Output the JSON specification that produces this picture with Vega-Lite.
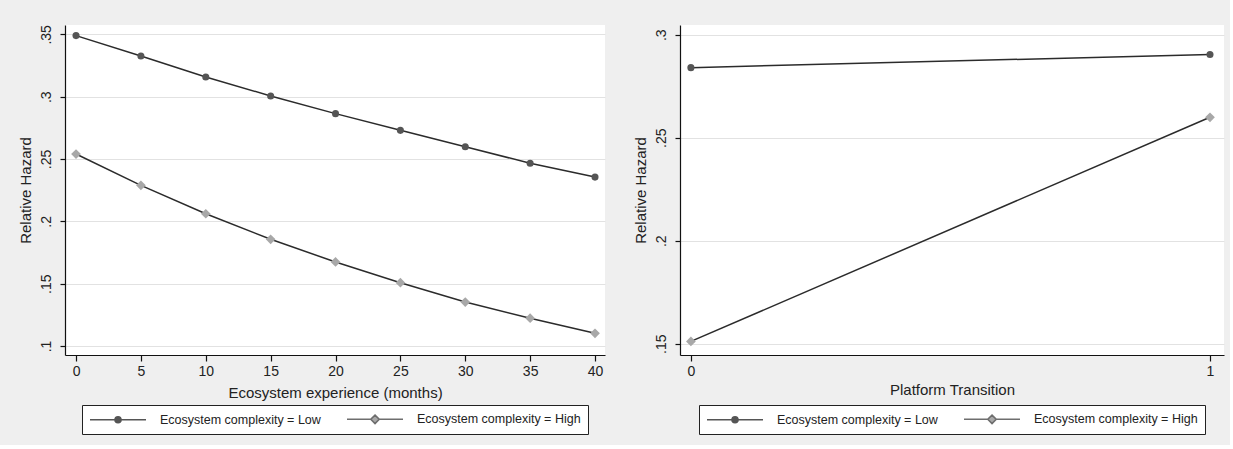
{
  "$schema": "https://vega.github.io/schema/vega-lite/v6.json",
  "background": "#efefef",
  "padding": {"left": 18, "top": 24, "right": 6, "bottom": 10},
  "spacing": 28,
  "datasets": {
    "experience": [
      {"months": 0, "hazard": 0.349, "group": "Low"},
      {"months": 5, "hazard": 0.3326, "group": "Low"},
      {"months": 10, "hazard": 0.3158, "group": "Low"},
      {"months": 15, "hazard": 0.3006, "group": "Low"},
      {"months": 20, "hazard": 0.2864, "group": "Low"},
      {"months": 25, "hazard": 0.273, "group": "Low"},
      {"months": 30, "hazard": 0.2599, "group": "Low"},
      {"months": 35, "hazard": 0.2466, "group": "Low"},
      {"months": 40, "hazard": 0.2355, "group": "Low"},
      {"months": 0, "hazard": 0.254, "group": "High"},
      {"months": 5, "hazard": 0.2289, "group": "High"},
      {"months": 10, "hazard": 0.2061, "group": "High"},
      {"months": 15, "hazard": 0.1856, "group": "High"},
      {"months": 20, "hazard": 0.1674, "group": "High"},
      {"months": 25, "hazard": 0.1508, "group": "High"},
      {"months": 30, "hazard": 0.1353, "group": "High"},
      {"months": 35, "hazard": 0.1223, "group": "High"},
      {"months": 40, "hazard": 0.1102, "group": "High"}
    ],
    "transition": [
      {"transition": 0, "hazard": 0.284, "group": "Low"},
      {"transition": 1, "hazard": 0.2904, "group": "Low"},
      {"transition": 0, "hazard": 0.1511, "group": "High"},
      {"transition": 1, "hazard": 0.2599, "group": "High"}
    ]
  },
  "resolve": {
    "scale": {"color": "independent"},
    "legend": {"color": "independent"}
  },
  "config": {
    "view": {"stroke": null, "fill": "white"},
    "font": "Liberation Sans",
    "axis": {
      "domainColor": "#111111",
      "tickColor": "#111111",
      "labelColor": "#222222",
      "titleColor": "#222222",
      "labelFontSize": 14,
      "titleFontSize": 15,
      "titleFontWeight": "normal",
      "labelFont": "Liberation Sans",
      "titleFont": "Liberation Sans",
      "gridColor": "#e2e2e2",
      "gridWidth": 1,
      "domainWidth": 1.2,
      "tickWidth": 1.2
    },
    "legend": {
      "layout": {"bottom": {"anchor": "middle"}},
      "title": null,
      "orient": "bottom",
      "direction": "horizontal",
      "columns": 2,
      "labelFontSize": 12.5,
      "labelLimit": 400,
      "labelColor": "#222222",
      "labelFont": "Liberation Sans",
      "labelOffset": 57,
      "columnPadding": 22,
      "padding": 7,
      "strokeColor": "#222222",
      "fillColor": "white",
      "symbolSize": 144,
      "symbolStrokeWidth": 1.6,
      "symbolStrokeColor": "#555555"
    }
  },
  "hconcat": [
    {
      "width": 540,
      "height": 330,
      "data": {"name": "experience"},
      "encoding": {
        "x": {
          "field": "months",
          "type": "quantitative",
          "title": "Ecosystem experience (months)",
          "scale": {"domain": [-0.85, 40.77], "nice": false, "zero": false},
          "axis": {"values": [0, 5, 10, 15, 20, 25, 30, 35, 40], "format": "d", "grid": false, "labelAngle": 0, "tickSize": 6, "labelPadding": 3, "titlePadding": 7}
        },
        "y": {
          "field": "hazard",
          "type": "quantitative",
          "title": "Relative Hazard",
          "scale": {"domain": [0.0928, 0.3575], "nice": false, "zero": false},
          "axis": {"values": [0.1, 0.15, 0.2, 0.25, 0.3, 0.35], "labelExpr": "slice(format(datum.value, '.2~f'), 1)", "labelAngle": 270, "labelPadding": 7, "titlePadding": 6, "tickSize": 5, "grid": true}
        }
      },
      "layer": [
        {
          "mark": {"type": "line", "color": "#2b2b2b", "strokeWidth": 1.5},
          "encoding": {"detail": {"field": "group"}}
        },
        {
          "mark": {"type": "point", "filled": true, "opacity": 1},
          "encoding": {
            "color": {
              "field": "group",
              "type": "nominal",
              "scale": {"domain": ["Low", "High"], "range": ["#555555", "#a8a8a8"]},
              "legend": {
                "labelExpr": "'Ecosystem complexity = ' + datum.label",
                "offset": 5,
                "encoding": {
                  "symbols": {
                    "shape": {
                      "condition": {"test": "datum.value === 'High'", "value": "M-1,0H2.97M4.37,0H8.333M3.67,-0.7L4.37,0L3.67,0.7L2.97,0Z"},
                      "value": "M-1,0H3.17M4.17,0H8.333M4.17,0A0.5,0.5 0 1,1 3.17,0A0.5,0.5 0 1,1 4.17,0Z"
                    },
                    "stroke": {
                      "condition": {"test": "datum.value === 'High'", "value": "#6e6e6e"},
                      "value": "#555555"
                    },
                    "strokeWidth": {"value": 1.6}
                  }
                }
              }
            },
            "shape": {
              "condition": {"test": "datum.group === 'High'", "value": "diamond"},
              "value": "circle"
            },
            "size": {
              "condition": {"test": "datum.group === 'High'", "value": 95},
              "value": 50
            }
          }
        }
      ]
    },
    {
      "width": 544,
      "height": 330,
      "data": {"name": "transition"},
      "encoding": {
        "x": {
          "field": "transition",
          "type": "quantitative",
          "title": "Platform Transition",
          "scale": {"domain": [-0.021, 1.027], "nice": false, "zero": false},
          "axis": {"values": [0, 1], "format": "d", "grid": false, "labelAngle": 0, "tickSize": 6, "labelPadding": 3, "titlePadding": 4}
        },
        "y": {
          "field": "hazard",
          "type": "quantitative",
          "title": "Relative Hazard",
          "scale": {"domain": [0.1445, 0.3047], "nice": false, "zero": false},
          "axis": {"values": [0.15, 0.2, 0.25, 0.3], "labelExpr": "slice(format(datum.value, '.2~f'), 1)", "labelAngle": 270, "labelPadding": 7, "titlePadding": 6, "tickSize": 5, "grid": true}
        }
      },
      "layer": [
        {
          "mark": {"type": "line", "color": "#2b2b2b", "strokeWidth": 1.5},
          "encoding": {"detail": {"field": "group"}}
        },
        {
          "mark": {"type": "point", "filled": true, "opacity": 1},
          "encoding": {
            "color": {
              "field": "group",
              "type": "nominal",
              "scale": {"domain": ["Low", "High"], "range": ["#555555", "#a8a8a8"]},
              "legend": {
                "labelExpr": "'Ecosystem complexity = ' + datum.label",
                "offset": 8,
                "encoding": {
                  "symbols": {
                    "shape": {
                      "condition": {"test": "datum.value === 'High'", "value": "M-1,0H2.97M4.37,0H8.333M3.67,-0.7L4.37,0L3.67,0.7L2.97,0Z"},
                      "value": "M-1,0H3.17M4.17,0H8.333M4.17,0A0.5,0.5 0 1,1 3.17,0A0.5,0.5 0 1,1 4.17,0Z"
                    },
                    "stroke": {
                      "condition": {"test": "datum.value === 'High'", "value": "#6e6e6e"},
                      "value": "#555555"
                    },
                    "strokeWidth": {"value": 1.6}
                  }
                }
              }
            },
            "shape": {
              "condition": {"test": "datum.group === 'High'", "value": "diamond"},
              "value": "circle"
            },
            "size": {
              "condition": {"test": "datum.group === 'High'", "value": 95},
              "value": 50
            }
          }
        }
      ]
    }
  ]
}
